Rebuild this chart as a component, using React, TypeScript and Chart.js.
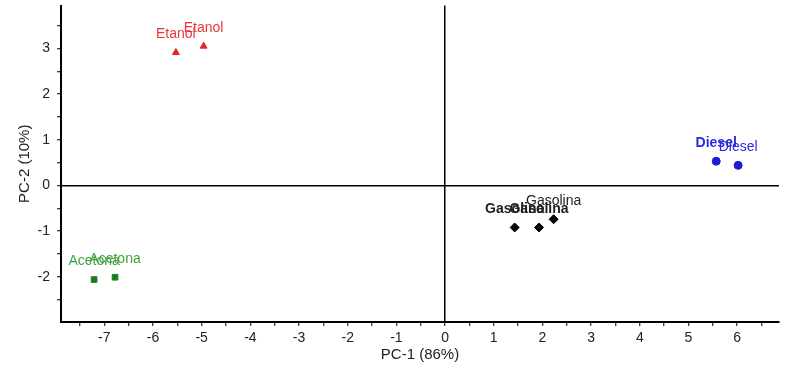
import React, { useEffect, useRef } from "react";
import { Chart, registerables } from "chart.js";

Chart.register(...registerables);

const etanolX = [-5.53, -4.96];
const etanolY = [2.91, 3.05];
const acetonaX = [-7.21, -6.78];
const acetonaY = [-2.06, -2.01];
const gasolinaX = [1.43, 1.93, 2.23];
const gasolinaY = [-0.92, -0.92, -0.74];
const dieselX = [5.57, 6.02];
const dieselY = [0.53, 0.44];

const groupNames = ["Etanol", "Acetona", "Gasolina", "Diesel"];
const xTitle = "PC-1 (86%)";
const yTitle = "PC-2 (10%)";

const FONT = "'Liberation Sans', Arial, sans-serif";

const zip = (xs: number[], ys: number[]) => xs.map((x, i) => ({ x, y: ys[i] }));

const labelPlugin = {
  id: "pointLabels",
  afterDatasetsDraw(chart: any) {
    const ctx = chart.ctx;
    ctx.save();
    ctx.textAlign = "center";
    ctx.textBaseline = "middle";
    chart.data.datasets.forEach((ds: any, di: number) => {
      const meta = chart.getDatasetMeta(di);
      ctx.fillStyle = ds.labelColor;
      meta.data.forEach((el: any, i: number) => {
        const bold = i < (ds.labelBoldCount || 0);
        ctx.font = `${bold ? "bold " : ""}14px ${FONT}`;
        ctx.fillText(ds.label, el.x, el.y - 18);
      });
    });
    ctx.restore();
  },
};

export default function App() {
  const ref = useRef<HTMLCanvasElement | null>(null);
  useEffect(() => {
    if (!ref.current) return;
    const tickCb = (v: any) => (Number.isInteger(Number(v)) ? String(v) : "");
    const chart = new Chart(ref.current, {
      type: "scatter",
      data: {
        datasets: [
          {
            label: groupNames[0],
            data: zip(etanolX, etanolY),
            pointStyle: "triangle",
            pointRadius: 4,
            backgroundColor: "#e0262c",
            borderColor: "#e0262c",
            labelColor: "#e8363c",
          } as any,
          {
            label: groupNames[1],
            data: zip(acetonaX, acetonaY),
            pointStyle: "rect",
            pointRadius: 4,
            backgroundColor: "#1e7a1e",
            borderColor: "#1e7a1e",
            labelColor: "#3ea33e",
          } as any,
          {
            label: groupNames[2],
            data: zip(gasolinaX, gasolinaY),
            pointStyle: "rectRot",
            pointRadius: 4.5,
            backgroundColor: "#000000",
            borderColor: "#000000",
            labelColor: "#222222",
            labelBoldCount: 2,
          } as any,
          {
            label: groupNames[3],
            data: zip(dieselX, dieselY),
            pointStyle: "circle",
            pointRadius: 4,
            backgroundColor: "#1c1cd8",
            borderColor: "#1c1cd8",
            labelColor: "#2a2ae0",
            labelBoldCount: 1,
          } as any,
        ],
      },
      options: {
        responsive: false,
        animation: false,
        devicePixelRatio: 1,
        layout: { padding: { left: 0, top: 4, right: 11, bottom: 0 } },
        plugins: {
          legend: { display: false },
          tooltip: { enabled: false },
        },
        scales: {
          x: {
            type: "linear",
            min: -7.89,
            max: 6.86,
            afterFit: (s: any) => {
              s.height = 52;
              s.paddingLeft = 0;
              s.paddingRight = 0;
            },
            border: { display: true, color: "#000", width: 2 },
            grid: {
              drawOnChartArea: true,
              color: (c: any) => (c.tick && c.tick.value === 0 ? "#000" : "rgba(0,0,0,0)"),
              lineWidth: 1.5,
              tickColor: "#000",
              tickLength: 4,
              tickWidth: 1,
            },
            ticks: {
              stepSize: 0.5,
              includeBounds: false,
              autoSkip: false,
              maxRotation: 0,
              padding: 4,
              color: "#222",
              font: { family: FONT, size: 14 },
              callback: tickCb,
            },
            title: {
              display: true,
              text: xTitle,
              color: "#222",
              font: { family: FONT, size: 15 },
              padding: { top: 0, bottom: 10 },
            },
          },
          y: {
            type: "linear",
            min: -2.99,
            max: 3.94,
            afterFit: (s: any) => {
              s.width = 61;
              s.paddingTop = 0;
              s.paddingBottom = 0;
            },
            border: { display: true, color: "#000", width: 2 },
            grid: {
              drawOnChartArea: true,
              color: (c: any) => (c.tick && c.tick.value === 0 ? "#000" : "rgba(0,0,0,0)"),
              lineWidth: 1.5,
              tickColor: "#000",
              tickLength: 4,
              tickWidth: 1,
            },
            ticks: {
              stepSize: 0.5,
              includeBounds: false,
              autoSkip: false,
              padding: 7,
              color: "#222",
              font: { family: FONT, size: 14 },
              callback: tickCb,
            },
            title: {
              display: true,
              text: yTitle,
              color: "#222",
              font: { family: FONT, size: 15 },
              padding: { top: 16, bottom: 0 },
            },
          },
        },
      } as any,
      plugins: [labelPlugin],
    });
    return () => chart.destroy();
  }, []);
  return (
    <div style={{ position: "absolute", left: 0, top: 0, width: 790, height: 374, background: "#fff" }}>
      <canvas ref={ref} width={790} height={374} style={{ width: 790, height: 374, display: "block" }} />
    </div>
  );
}
